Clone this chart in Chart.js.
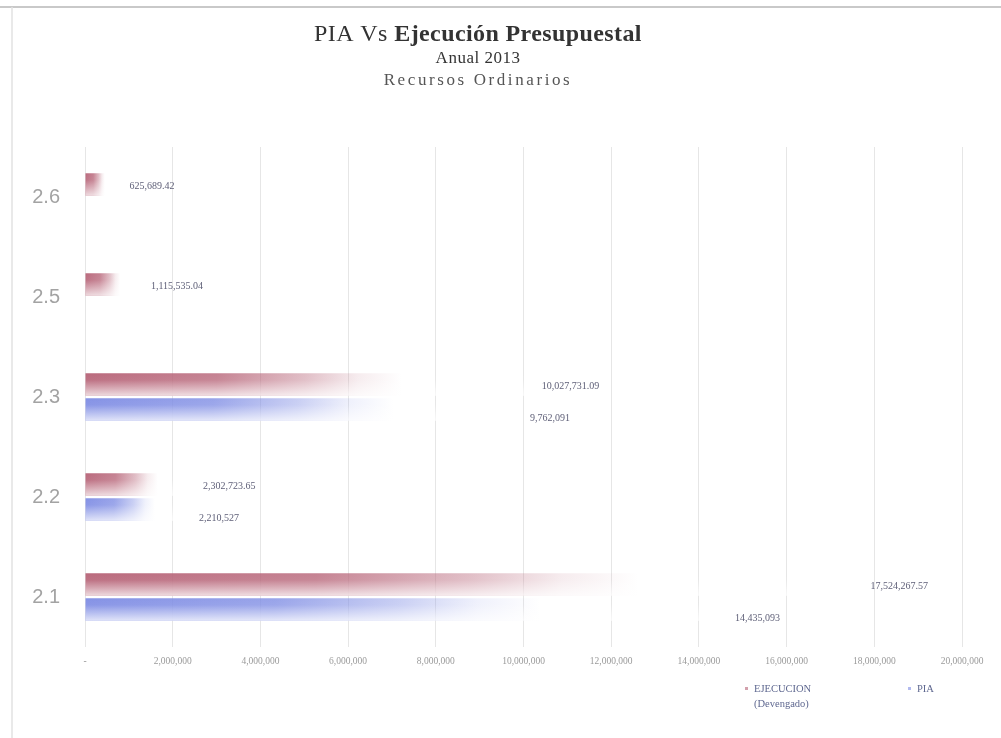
<!DOCTYPE html>
<html>
<head>
<meta charset="utf-8">
<script src="https://cdn.jsdelivr.net/npm/chart.js@4.4.1/dist/chart.umd.min.js"></script>
<style>
  html, body { margin: 0; padding: 0; background: #fff; }
  #wrap { width: 1001px; height: 738px; position: relative; }
</style>
</head>
<body>
<div id="wrap"><canvas id="c" width="1001" height="738"></canvas></div>
<script>
// Budget categories (bottom to top)
const categories = ['2.1', '2.2', '2.3', '2.5', '2.6'];
// Executed (accrued) amounts
const ejecucion = [17524267.57, 2302723.65, 10027731.09, 1115535.04, 625689.42];
// Initial opening budget (PIA)
const pia = [14435093, 2210527, 9762091, 0, 0];
// Legend names
const ejecucionName = ['EJECUCION', '(Devengado)'];
const piaName = ['PIA'];
// Value axis range
const xMin = 0;
const xMax = 20000000;
const xStep = 2000000;

const titleLines = ['PIA Vs Ejecución Presupuestal', 'Anual 2013', 'Recursos Ordinarios'];

const RED = '182,98,118';
const BLUE = '126,140,228';

// Each bar fades from its colour at the base to white towards its value end
function fade(rgb) {
  return (ctx) => {
    const chart = ctx.chart;
    const xs = chart.scales.x;
    if (!xs || ctx.type !== 'data') return `rgba(${rgb},0.8)`;
    const v = ctx.raw || 0;
    const x0 = xs.getPixelForValue(0);
    const x1 = xs.getPixelForValue(v);
    if (!Number.isFinite(x0) || !Number.isFinite(x1)) return `rgba(${rgb},0.8)`;
    if (x1 - x0 < 1) return 'rgba(255,255,255,0)';
    const g = chart.ctx.createLinearGradient(x0, 0, x1, 0);
    g.addColorStop(0, `rgba(${rgb},0.95)`);
    g.addColorStop(0.3, `rgba(${rgb},0.8)`);
    g.addColorStop(0.5, `rgba(${rgb},0.42)`);
    g.addColorStop(0.62, `rgba(${rgb},0.12)`);
    g.addColorStop(0.72, `rgba(${rgb},0)`);
    g.addColorStop(1, `rgba(${rgb},0)`);
    return g;
  };
}

function fmt(v, decimals) {
  return v.toLocaleString('en-US', { minimumFractionDigits: decimals, maximumFractionDigits: decimals });
}

// Frame lines around the chart
const framePlugin = {
  id: 'frame',
  beforeDraw(chart) {
    const c = chart.ctx;
    c.save();
    c.fillStyle = '#ffffff';
    c.fillRect(0, 0, chart.width, chart.height);
    c.strokeStyle = '#c9c9c9';
    c.lineWidth = 2;
    c.beginPath();
    c.moveTo(0, 7); c.lineTo(chart.width, 7);
    c.stroke();
    c.strokeStyle = '#e2e2e2';
    c.lineWidth = 1.5;
    c.beginPath();
    c.moveTo(12, 7); c.lineTo(12, chart.height);
    c.stroke();
    c.restore();
  }
};

// Three-line heading
const headingPlugin = {
  id: 'heading',
  afterDraw(chart) {
    const c = chart.ctx;
    const cx = 478;
    c.save();
    c.fillStyle = '#333333';
    c.textBaseline = 'middle';
    // first line: "PIA Vs" regular, rest bold
    const a = 'PIA Vs ';
    const b = 'Ejecución Presupuestal';
    c.letterSpacing = '0.4px';
    c.font = '24px "Liberation Serif", serif';
    const wa = c.measureText(a).width;
    c.font = 'bold 24px "Liberation Serif", serif';
    const wb = c.measureText(b).width;
    const x = cx - (wa + wb) / 2;
    c.textAlign = 'left';
    c.font = '24px "Liberation Serif", serif';
    c.fillText(a, x, 35);
    c.font = 'bold 24px "Liberation Serif", serif';
    c.fillText(b, x + wa, 35);
    c.textAlign = 'center';
    c.letterSpacing = '0.5px';
    c.font = '17px "Liberation Serif", serif';
    c.fillText(titleLines[1], cx, 59);
    c.fillStyle = '#555555';
    c.font = '17px "Liberation Serif", serif';
    c.letterSpacing = '2.6px';
    c.fillText(titleLines[2], cx, 81);
    c.restore();
  }
};

// Soft cylinder shading and value labels on the bars
const barDecorPlugin = {
  id: 'barDecor',
  afterDatasetsDraw(chart) {
    const c = chart.ctx;
    c.save();
    chart.data.datasets.forEach((ds, di) => {
      const meta = chart.getDatasetMeta(di);
      meta.data.forEach((el, i) => {
        const p = el.getProps(['x', 'y', 'base', 'height'], true);
        if (![p.x, p.y, p.base, p.height].every(Number.isFinite)) return;
        const top = p.y - p.height / 2;
        if (p.x - p.base >= 1) {
          const g = c.createLinearGradient(0, top, 0, top + p.height);
          g.addColorStop(0, 'rgba(255,255,255,0)');
          g.addColorStop(0.3, 'rgba(255,255,255,0.05)');
          g.addColorStop(1, 'rgba(255,255,255,0.75)');
          c.fillStyle = g;
          c.fillRect(p.base, top, p.x - p.base, p.height);
        }
        const v = ds.data[i];
        if (v > 0) {
          c.font = '10px "Liberation Serif", serif';
          c.fillStyle = '#5f6078';
          c.textAlign = 'left';
          c.textBaseline = 'middle';
          c.fillText(fmt(v, ds.decimals), p.x + 17, p.y + (di === 0 ? 2 : 9));
        }
      });
    });
    c.restore();
  }
};

// Legend in the lower right corner
const legendPlugin = {
  id: 'cornerLegend',
  afterDraw(chart) {
    const c = chart.ctx;
    const items = [
      { x: 745, lines: chart.data.datasets[0].legendLines, color: `rgb(${RED})` },
      { x: 908, lines: chart.data.datasets[1].legendLines, color: `rgb(${BLUE})` }
    ];
    c.save();
    c.font = '10.5px "Liberation Serif", serif';
    c.textBaseline = 'middle';
    c.textAlign = 'left';
    items.forEach(it => {
      c.fillStyle = it.color;
      c.globalAlpha = 0.6;
      c.fillRect(it.x, 687, 3, 3);
      c.globalAlpha = 1;
      c.fillStyle = '#5f6890';
      it.lines.forEach((t, k) => c.fillText(t, it.x + 9, 689 + k * 15));
    });
    c.restore();
  }
};

new Chart(document.getElementById('c'), {
  type: 'bar',
  data: {
    labels: categories,
    datasets: [
      {
        label: ejecucionName.join(' '),
        legendLines: ejecucionName,
        data: ejecucion,
        decimals: 2,
        backgroundColor: fade(RED),
        borderWidth: 0,
        categoryPercentage: 0.5,
        barPercentage: 0.9
      },
      {
        label: piaName.join(' '),
        legendLines: piaName,
        data: pia,
        decimals: 0,
        backgroundColor: fade(BLUE),
        borderWidth: 0,
        categoryPercentage: 0.5,
        barPercentage: 0.9
      }
    ]
  },
  options: {
    indexAxis: 'y',
    responsive: false,
    animation: false,
    devicePixelRatio: 1,
    layout: { padding: { left: 0, right: 39, top: 147, bottom: 66 } },
    plugins: {
      legend: { display: false },
      title: { display: false },
      tooltip: { enabled: false }
    },
    scales: {
      x: {
        min: xMin,
        max: xMax,
        afterFit: s => { s.height = 25; },
        grid: { color: '#e6e6e6', lineWidth: 1, drawTicks: false },
        border: { display: false },
        ticks: {
          stepSize: xStep,
          padding: 9,
          color: '#9a9a9a',
          font: { family: '"Liberation Serif", serif', size: 9.5 },
          callback: v => v === 0 ? '-' : v.toLocaleString('en-US'),
          maxRotation: 0,
          autoSkip: false
        }
      },
      y: {
        reverse: true,
        afterFit: s => { s.width = 85; },
        grid: { display: false },
        border: { display: false },
        ticks: {
          padding: 17,
          color: '#a3a3a3',
          font: { family: '"Liberation Sans", sans-serif', size: 20 }
        }
      }
    }
  },
  plugins: [framePlugin, headingPlugin, barDecorPlugin, legendPlugin]
});
</script>
</body>
</html>
